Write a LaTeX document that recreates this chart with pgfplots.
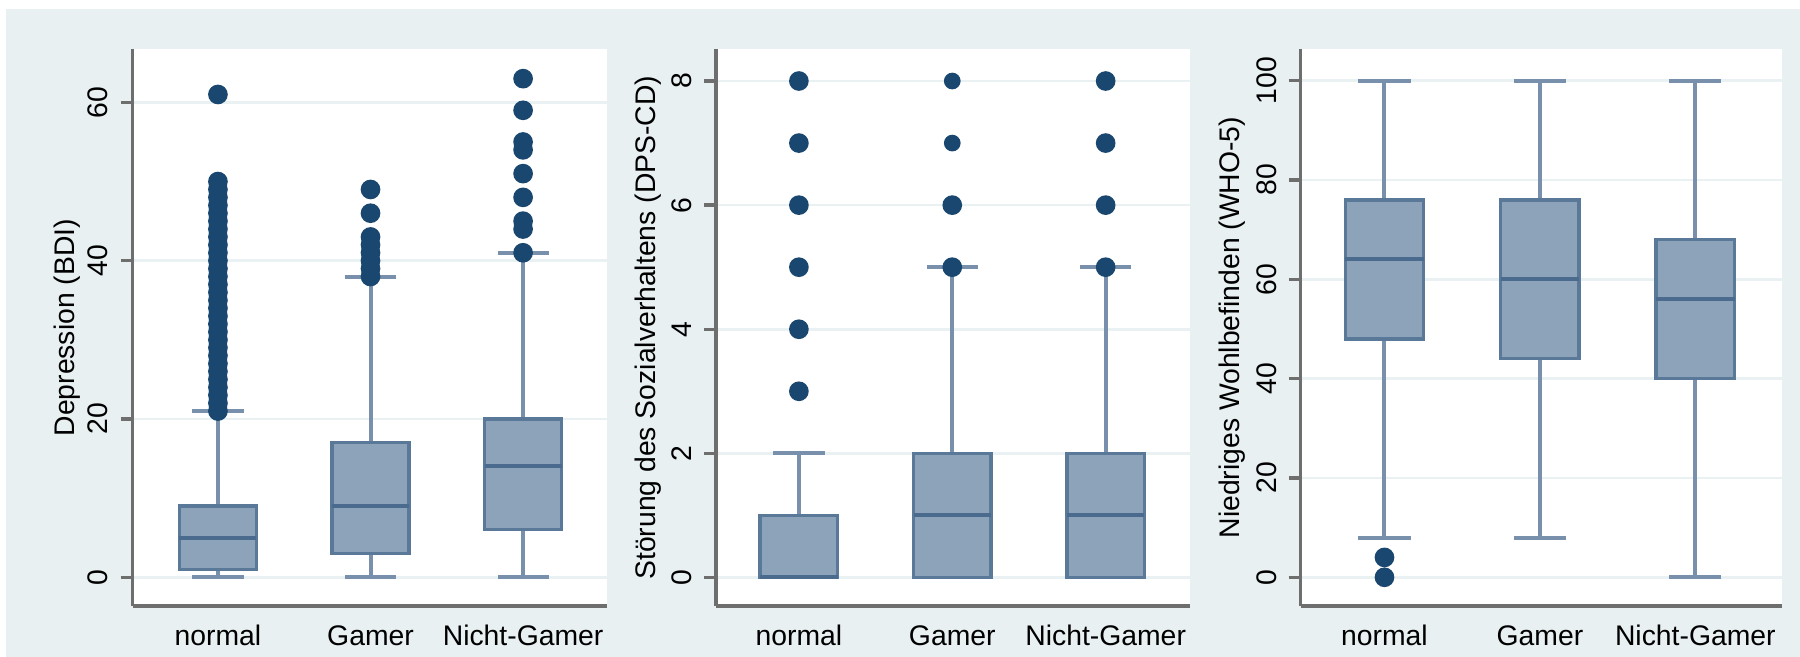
\documentclass[border=0pt]{standalone}
\usepackage{fontspec}
\setmainfont{Liberation Sans}
\usepackage{pgfplots}
\pgfplotsset{compat=1.18}
\usepgfplotslibrary{statistics}
\definecolor{bgcol}{HTML}{E8F0F2}
\definecolor{boxfill}{HTML}{8DA3B9}
\definecolor{boxedge}{HTML}{5A7998}
\definecolor{medcol}{HTML}{4A6B8D}
\definecolor{whiskcol}{HTML}{7890AB}
\definecolor{dotcol}{HTML}{1A476F}
\definecolor{gridcol}{HTML}{EAF1F3}
\definecolor{axcol}{HTML}{6E6E6E}
\pgfplotsset{
  boxplot/draw direction=y,
  boxplot/every box/.style={draw=boxedge, fill=boxfill, line width=1pt},
  boxplot/every median/.style={draw=medcol, line width=1.2pt},
  boxplot/every whisker/.style={draw=whiskcol, line width=1.2pt},
  stbox/.style={
    scale only axis, height=166.98pt, anchor=south west,
    ymajorgrids, grid style={gridcol, line width=0.8pt},
    axis x line=bottom, axis y line=left,
    axis line style={axcol, line width=1pt, -},
    xtick={1,2,3}, xticklabels={normal,Gamer,Nicht-Gamer},
    x tick style={draw=none},
    y tick style={axcol, line width=1pt},
    tick align=outside, major tick length=3.6pt,
    yticklabel style={rotate=90, anchor=base, font=\fontsize{8.5}{10}\selectfont},
    yticklabel shift=3.8pt,
    xticklabel style={anchor=base, font=\fontsize{8.5}{10}\selectfont},
    xticklabel shift=8.2pt,
    /pgf/number format/assume math mode=true,
    axis background/.style={fill=white},
    every axis y label/.style={rotate=90, anchor=center, font=\fontsize{8.5}{10}\selectfont},
  },
  bx/.style={draw=whiskcol, line width=1.2pt, boxplot prepared={#1, box extend=0.505, whisker extend=0.335}},
  dots/.style={only marks, mark=*, mark size=2.75pt, color=dotcol, mark options={draw=dotcol, fill=dotcol}},
}
\begin{document}
\begin{tikzpicture}
\fill[white] (0,0) rectangle (540pt,197.1pt);
\fill[bgcol] (1.8pt,0) rectangle (540pt,194.4pt);
\useasboundingbox (0,0) rectangle (540pt,197.1pt);

% Panel 1
\begin{axis}[stbox, at={(39.75pt,15.3pt)}, width=142.35pt,
  xmin=0.44, xmax=3.55, ymin=-3.63, ymax=66.7, ytick={0,20,40,60},
  ylabel={Depression (BDI)}, ylabel style={at={(axis description cs:-0.1376,0.5)}}]
\addplot[bx={draw position=1, lower whisker=0, lower quartile=1, median=5, upper quartile=9, upper whisker=21}] coordinates {};
\addplot[bx={draw position=2, lower whisker=0, lower quartile=3, median=9, upper quartile=17, upper whisker=38}] coordinates {};
\addplot[bx={draw position=3, lower whisker=0, lower quartile=6, median=14, upper quartile=20, upper whisker=41}] coordinates {};
\addplot[dots] coordinates {
 (1,21) (1,22) (1,23) (1,24) (1,25) (1,26) (1,27) (1,28) (1,29) (1,30)
 (1,31) (1,32) (1,33) (1,34) (1,35) (1,36) (1,37) (1,38) (1,39) (1,40)
 (1,41) (1,42) (1,43) (1,44) (1,45) (1,46) (1,47) (1,48) (1,49) (1,50)
 (1,61)};
\addplot[dots] coordinates {(2,38) (2,39) (2,40) (2,41) (2,42) (2,43) (2,46) (2,49)};
\addplot[dots] coordinates {(3,41) (3,44) (3,45) (3,48) (3,51) (3,54) (3,55) (3,59) (3,63)};
\end{axis}

% Panel 2
\begin{axis}[stbox, at={(214.77pt,15.3pt)}, width=142.23pt,
  xmin=0.459, xmax=3.55, ymin=-0.46, ymax=8.51, ytick={0,2,4,6,8},
  ylabel={Störung des Sozialverhaltens (DPS-CD)}, ylabel style={at={(axis description cs:-0.1424,0.5)}}]
\addplot[bx={draw position=1, lower whisker=0, lower quartile=0, median=0, upper quartile=1, upper whisker=2}] coordinates {};
\addplot[bx={draw position=2, lower whisker=0, lower quartile=0, median=1, upper quartile=2, upper whisker=5}] coordinates {};
\addplot[bx={draw position=3, lower whisker=0, lower quartile=0, median=1, upper quartile=2, upper whisker=5}] coordinates {};
\addplot[dots] coordinates {(1,3) (1,4) (1,5) (1,6) (1,7) (1,8)};
\addplot[dots] coordinates {(2,5) (2,6)};
\addplot[dots, mark size=2.3pt] coordinates {(2,7) (2,8)};
\addplot[dots] coordinates {(3,5) (3,6) (3,7) (3,8)};
\end{axis}

% Panel 3
\begin{axis}[stbox, at={(390.21pt,15.3pt)}, width=144.39pt,
  xmin=0.461, xmax=3.558, ymin=-5.78, ymax=106.3, ytick={0,20,40,60,80,100},
  ylabel={Niedriges Wohlbefinden (WHO-5)}, ylabel style={at={(axis description cs:-0.1417,0.5)}}]
\addplot[bx={draw position=1, lower whisker=8, lower quartile=48, median=64, upper quartile=76, upper whisker=100}] coordinates {};
\addplot[bx={draw position=2, lower whisker=8, lower quartile=44, median=60, upper quartile=76, upper whisker=100}] coordinates {};
\addplot[bx={draw position=3, lower whisker=0, lower quartile=40, median=56, upper quartile=68, upper whisker=100}] coordinates {};
\addplot[dots] coordinates {(1,0) (1,4)};
\end{axis}
\end{tikzpicture}
\end{document}
